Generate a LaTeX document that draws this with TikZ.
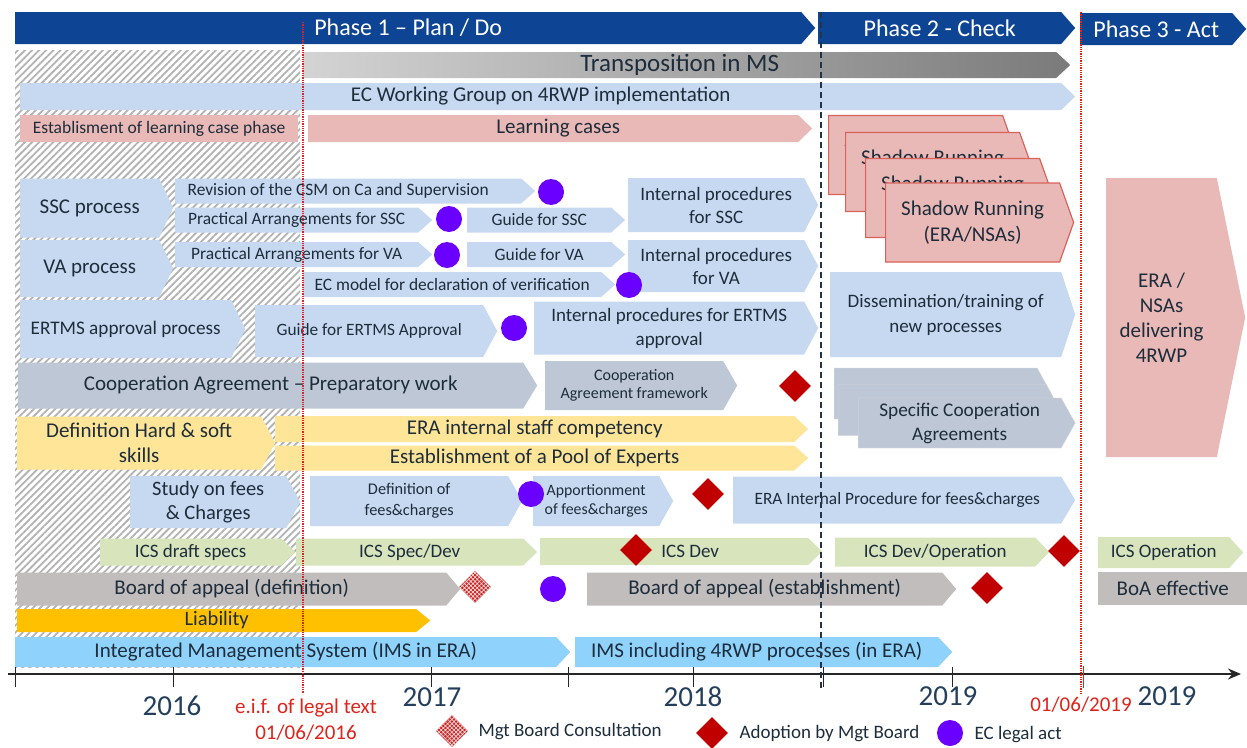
\documentclass[tikz,border=0pt]{standalone}
\usepackage{fontspec}
\setmainfont{Carlito}
\usetikzlibrary{shapes.symbols,shapes.geometric,patterns.meta,arrows.meta}

\definecolor{phaseblue}{HTML}{0D4594}
\definecolor{lblue}{HTML}{C6D9F0}
\definecolor{lpink}{HTML}{E9B9B7}
\definecolor{pinkline}{HTML}{D9635B}
\definecolor{lyellow}{HTML}{FFE597}
\definecolor{lgreen}{HTML}{D8E4BC}
\definecolor{slate}{HTML}{BEC7D6}
\definecolor{slateline}{HTML}{D6D9DF}
\definecolor{taupe}{HTML}{C1BDBD}
\definecolor{amber}{HTML}{FFC000}
\definecolor{skyblue}{HTML}{8FD2FC}
\definecolor{ecpurple}{HTML}{6A00FF}
\definecolor{mbred}{HTML}{C00000}
\definecolor{txt}{HTML}{1E2D3B}
\definecolor{yeartxt}{HTML}{243F5C}
\definecolor{eifred}{HTML}{E0231B}
\definecolor{gateline}{HTML}{243447}

\tikzset{
    sz/.style 2 args={font=\fontsize{#1}{#2}\selectfont},
    bar/.style 2 args={
           signal, signal to=east,
           anchor=west,
           inner sep=1pt,
           text=txt,
           align=center,
           minimum width=#1,
           minimum height=#2,
           signal pointer angle={2*atan(#2/28)},
           },
    blk/.style 2 args={
           rectangle,
           anchor=west,
           inner sep=1pt,
           text=txt,
           align=center,
           minimum width=#1,
           minimum height=#2,
           },
    ecact/.style={circle, fill=ecpurple, inner sep=0pt, minimum size=26},
    adopt/.style={diamond, fill=mbred, inner sep=0pt, minimum width=32, minimum height=32},
    consult/.style={diamond, fill=mbred!85, inner sep=0pt, minimum width=32, minimum height=32,
           postaction={pattern={Hatch[angle=45,distance=3pt,line width=0.7pt]}, pattern color=white!85!mbred}},
    hatch/.style={pattern={Lines[angle=45,distance=5pt,line width=1.8pt]}, pattern color=gray!60},
    eifline/.style={eifred, densely dotted, line width=1.3pt},
    gate/.style={gateline, dash pattern=on 6pt off 4pt, line width=1.3pt},
    tick/.style={line width=1pt, black!85},
}

\begin{document}
\begin{tikzpicture}[x=1pt,y=-1pt]
 \useasboundingbox (0,0) rectangle (1247,747);

 % hatched area before the entry into force
 \fill[hatch] (15,50) rectangle (300,667);

 % phases
 \node[bar={800}{32}, fill=phaseblue, text=white, sz={24}{28}] (Phase1) at (15,28) {Phase 1 – Plan / Do};
 \node[bar={257}{32}, fill=phaseblue, text=white, sz={24}{28}] (Phase2) at (818,28) {Phase 2 - Check};
 \node[bar={166}{32}, fill=phaseblue, text=white, sz={24}{28}] (Phase3) at (1080,29) {Phase 3 - Act};

 % top rows
 \node[bar={767}{26}, left color=black!17, right color=black!52, sz={25}{28}] (Transposition) at (303,65) {Transposition in MS};
 \node[bar={1055}{27}, fill=lblue, sz={21}{24}] (EC WG) at (20,96.5) {EC Working Group on 4RWP implementation};
 \node[blk={278}{27}, fill=lpink, sz={17.5}{20}] (LC phase) at (20,128.5) {Establisment of learning case phase};
 \node[bar={504}{27}, fill=lpink, sz={21}{24}] (Learning) at (308,128.5) {\hspace*{10pt}Learning cases};

 % shadow running (stacked)
 \foreach \sx/\sy/\sn in {828/155/1, 845/172/2, 865/198/3, 885/222.5/4}
  \node[bar={188}{79}, fill=lpink, draw=pinkline, line width=1.2pt, sz={21}{26}] (Shadow\sn) at (\sx,\sy)
  {Shadow Running\\(ERA/NSAs)};

 % SSC / VA
 \node[bar={153}{59}, fill=lblue, sz={21}{24}] (SSC) at (20,208) {SSC process};
 \node[bar={153}{57}, fill=lblue, sz={21}{24}] (VA) at (20,268.5) {VA process};
 \node[bar={360}{25}, fill=lblue, sz={17.4}{20}] (CSM) at (175,191) {Revision of the CSM on Ca and Supervision\hspace*{20pt}};
 \node[bar={257}{25}, fill=lblue, sz={17.4}{20}] (PA SSC) at (175,220) {Practical Arrangements for SSC};
 \node[bar={158}{25}, fill=lblue, sz={17.4}{20}] (Guide SSC) at (467,220) {Guide for SSC};
 \node[bar={190}{54}, fill=lblue, sz={19}{23}] (IP SSC) at (628,205) {Internal procedures\\for SSC};
 \node[bar={257}{25}, fill=lblue, sz={17.4}{20}] (PA VA) at (175,254.5) {Practical Arrangements for VA};
 \node[bar={158}{25}, fill=lblue, sz={17.4}{20}] (Guide VA) at (467,254.5) {Guide for VA};
 \node[bar={190}{52}, fill=lblue, sz={19}{23}] (IP VA) at (628,266) {Internal procedures\\for VA};
 \node[bar={312}{25}, fill=lblue, sz={17.4}{20}] (EC model) at (303,284.5) {EC model for declaration of verification};

 % ERTMS
 \node[bar={225}{58}, fill=lblue, sz={19.2}{23}] (ERTMS) at (20,329) {ERTMS approval process};
 \node[bar={242}{52}, fill=lblue, sz={17.3}{20}] (Guide ERTMS) at (255,331) {Guide for ERTMS Approval};
 \node[bar={284}{53}, fill=lblue, sz={19}{24}] (IP ERTMS) at (534,328) {Internal procedures for ERTMS\\approval};
 \node[bar={245}{85}, fill=lblue, sz={19}{25}] (Dissemination) at (830,314.5) {Dissemination/training of\\new processes};

 % ERA / NSAs
 \node[bar={139}{279}, signal pointer angle=157, fill=lpink, sz={21}{25}] (Delivering) at (1106,317.5)
  {ERA /\\NSAs\\delivering\\4RWP};

 % cooperation agreements
 \node[bar={519}{46}, fill=slate, sz={21}{24}] (Coop prep) at (18,385.5) {Cooperation Agreement – Preparatory work};
 \node[bar={192}{49}, fill=slate, sz={16}{18.5}] (Coop fw) at (545,385.5) {Cooperation\\Agreement framework};
 \node[bar={217}{51}, fill=slate, draw=slateline] (Spec1) at (834,393.5) {};
 \node[bar={222}{51}, fill=slate, draw=slateline] (Spec2) at (838,410) {};
 \node[bar={217}{50}, fill=slate, draw=slateline, sz={19.3}{24}] (Spec3) at (858,423) {Specific Cooperation\\Agreements};

 % staff
 \node[bar={258}{53}, fill=lyellow, sz={21}{25}] (Skills) at (17,443) {Definition Hard \& soft\\skills};
 \node[bar={533}{26}, fill=lyellow, sz={21}{24}] (Staff) at (275,429) {ERA internal staff competency};
 \node[bar={533}{25}, fill=lyellow, sz={21}{24}] (Pool) at (275,458) {Establishment of a Pool of Experts};

 % fees and charges
 \node[bar={170}{52}, fill=lblue, sz={20.5}{24}] (Study) at (130,502) {Study on fees\\\& Charges};
 \node[bar={212}{50}, fill=lblue, sz={16.3}{21}] (Def fees) at (310,501) {Definition of\\fees\&charges};
 \node[bar={140}{50}, fill=lblue, sz={15.8}{19}] (Apport) at (533,501) {Apportionment\\of fees\&charges};
 \node[bar={342}{47}, fill=lblue, sz={17.3}{20}] (IP fees) at (733,500) {ERA Internal Procedure for fees\&charges};

 % ICS
 \node[bar={195}{27}, fill=lgreen, sz={19}{22}] (ICS draft) at (100,552) {ICS draft specs};
 \node[bar={241}{27}, fill=lgreen, sz={19}{22}] (ICS spec) at (296,552) {ICS Spec/Dev};
 \node[bar={282}{27}, fill=lgreen, sz={19}{22}] (ICS dev) at (540,551.5) {\hspace*{32pt}ICS Dev};
 \node[bar={214}{29}, fill=lgreen, sz={19}{22}] (ICS devop) at (835,552) {ICS Dev/Operation};
 \node[bar={145}{31}, fill=lgreen, sz={19}{22}] (ICS op) at (1098,552.5) {ICS Operation};

 % board of appeal, liability, IMS
 \node[bar={443}{33}, fill=taupe, sz={21}{24}] (BoA def) at (17,589) {Board of appeal (definition)};
 \node[bar={369}{33}, fill=taupe, sz={21}{24}] (BoA est) at (587,589) {Board of appeal (establishment)};
 \node[blk={149}{33}, fill=taupe, sz={21}{24}] (BoA eff) at (1098,588.5) {BoA effective};
 \node[bar={413}{23}, fill=amber, sz={20.5}{23}] (Liability) at (17,620.5) {Liability};
 \node[bar={555}{30}, fill=skyblue, sz={21}{24}] (IMS) at (15,652) {Integrated Management System (IMS in ERA)};
 \node[bar={377}{30}, fill=skyblue, sz={21}{24}] (IMS 4RWP) at (575,652) {IMS including 4RWP processes (in ERA)};

 % EC legal acts
 \node[ecact] (Act CSM) at (551,192) {};
 \node[ecact] (Act PA SSC) at (449,219) {};
 \node[ecact] (Act PA VA) at (447,255) {};
 \node[ecact] (Act EC model) at (629,285) {};
 \node[ecact] (Act ERTMS) at (514,328) {};
 \node[ecact] (Act fees) at (531,494) {};
 \node[ecact] (Act BoA) at (553,589) {};

 % Mgt Board
 \node[adopt] (Adopt coop) at (795,386) {};
 \node[adopt] (Adopt fees) at (708,494) {};
 \node[adopt] (Adopt ICS) at (636,550) {};
 \node[adopt] (Adopt ICS2) at (1064,551) {};
 \node[adopt] (Adopt BoA) at (987,588) {};
 \node[consult] (Consult BoA) at (475,587) {};

 % time axis
 \coordinate (Axis start) at (8,674);
 \coordinate (Axis end) at (1241,674);
 \draw[-{Stealth[length=13pt,width=11pt]}, line width=1.6pt, black!85] (Axis start) -- (Axis end);
 \foreach \tx in {15,173,431,568,693,823,952}
  \draw[tick] (\tx,667) -- (\tx,687);
 \draw[eifred, line width=1pt] (1083,666) -- (1083,688);

 % milestones
 \coordinate (EIF top) at (303,22);
 \coordinate (EIF bottom) at (303,693);
 \coordinate (Gate top) at (821,12);
 \coordinate (Gate bottom) at (821,690);
 \coordinate (Act top) at (1081,12);
 \coordinate (Act bottom) at (1081,693);
 \draw[eifline] (EIF top) -- (EIF bottom);
 \draw[gate] (Gate top) -- (Gate bottom);
 \draw[eifline] (Act top) -- (Act bottom);

 % years
 \node[text=yeartxt, sz={29}{32}] (Y2016) at (172,706) {2016};
 \node[text=yeartxt, sz={29}{32}] (Y2017) at (432,697) {2017};
 \node[text=yeartxt, sz={29}{32}] (Y2018) at (693,697) {2018};
 \node[text=yeartxt, sz={29}{32}] (Y2019) at (948,696) {2019};
 \node[text=yeartxt, sz={29}{32}] (Y2019b) at (1167,696) {2019};
 \node[text=eifred, align=center, sz={21}{26}] (EIF label) at (306,720) {e.i.f. of legal text\\01/06/2016};
 \node[text=eifred, sz={21}{24}] (Act label) at (1081,705) {01/06/2019};

 % legend
 \node[consult] (Leg consult) at (452,731) {};
 \node[anchor=west, text=txt, sz={19}{22}] (Leg consult text) at (475,732) {Mgt Board Consultation};
 \node[adopt] (Leg adopt) at (712,733) {};
 \node[anchor=west, text=txt, sz={19}{22}] (Leg adopt text) at (736,734) {Adoption by Mgt Board};
 \node[ecact] (Leg act) at (950,733) {};
 \node[anchor=west, text=txt, sz={19}{22}] (Leg act text) at (971,735) {EC legal act};

\end{tikzpicture}
\end{document}
